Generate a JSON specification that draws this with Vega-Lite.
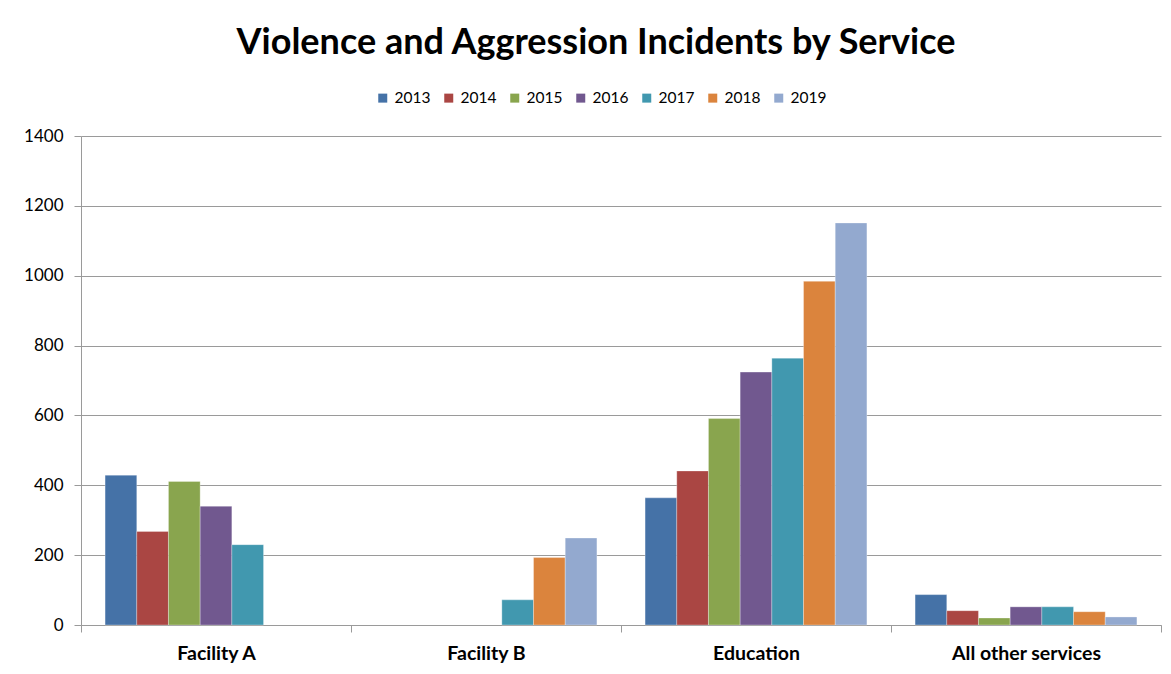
{
  "$schema": "https://vega.github.io/schema/vega-lite/v6.json",
  "width": 1080,
  "height": 489,
  "autosize": {"type": "none"},
  "padding": {"left": 81, "top": 136, "right": 10, "bottom": 49},
  "background": "white",
  "title": {
    "text": "Violence and Aggression Incidents by Service",
    "font": "Lato",
    "fontSize": 36,
    "fontWeight": "bold",
    "color": "#000000",
    "anchor": "middle",
    "frame": "group",
    "dx": -25,
    "baseline": "alphabetic",
    "offset": 0
  },
  "data": {
    "values": [
      {"service": "Facility A", "year": "2013", "value": 429},
      {"service": "Facility A", "year": "2014", "value": 268},
      {"service": "Facility A", "year": "2015", "value": 411},
      {"service": "Facility A", "year": "2016", "value": 340},
      {"service": "Facility A", "year": "2017", "value": 230},
      {"service": "Facility B", "year": "2017", "value": 72},
      {"service": "Facility B", "year": "2018", "value": 193},
      {"service": "Facility B", "year": "2019", "value": 249},
      {"service": "Education", "year": "2013", "value": 364},
      {"service": "Education", "year": "2014", "value": 441},
      {"service": "Education", "year": "2015", "value": 591},
      {"service": "Education", "year": "2016", "value": 724},
      {"service": "Education", "year": "2017", "value": 764},
      {"service": "Education", "year": "2018", "value": 984},
      {"service": "Education", "year": "2019", "value": 1151},
      {"service": "All other services", "year": "2013", "value": 87},
      {"service": "All other services", "year": "2014", "value": 41},
      {"service": "All other services", "year": "2015", "value": 20},
      {"service": "All other services", "year": "2016", "value": 52},
      {"service": "All other services", "year": "2017", "value": 52},
      {"service": "All other services", "year": "2018", "value": 38},
      {"service": "All other services", "year": "2019", "value": 23}
    ]
  },
  "mark": {"type": "bar", "stroke": "#ffffff", "strokeWidth": 0.6, "strokeOpacity": 0.5},
  "encoding": {
    "x": {
      "field": "service",
      "type": "nominal",
      "sort": ["Facility A", "Facility B", "Education", "All other services"],
      "scale": {"paddingInner": 0, "paddingOuter": 0},
      "axis": {
        "title": null,
        "labelAngle": 0,
        "labelFont": "Lato",
        "labelFontSize": 19.5,
        "labelFontWeight": "bold",
        "labelColor": "#000000",
        "labelPadding": 12,
        "tickBand": "extent",
        "tickSize": 7,
        "tickColor": "#9a9a9a",
        "domainColor": "#9a9a9a",
        "grid": false
      }
    },
    "xOffset": {
      "field": "year",
      "type": "nominal",
      "scale": {"paddingInner": 0, "paddingOuter": 0.76}
    },
    "y": {
      "field": "value",
      "type": "quantitative",
      "scale": {"domain": [0, 1400], "nice": false},
      "axis": {
        "title": null,
        "values": [0, 200, 400, 600, 800, 1000, 1200, 1400],
        "format": "d",
        "labelFont": "Lato",
        "labelFontSize": 17,
        "labelColor": "#000000",
        "labelPadding": 11,
        "tickSize": 7,
        "tickColor": "#9a9a9a",
        "domainColor": "#9a9a9a",
        "gridColor": "#9a9a9a",
        "grid": true
      }
    },
    "color": {
      "field": "year",
      "type": "nominal",
      "scale": {
        "domain": ["2013", "2014", "2015", "2016", "2017", "2018", "2019"],
        "range": ["#4572A7", "#AA4643", "#89A54E", "#71588F", "#4198AF", "#DB843D", "#93A9CF"]
      },
      "legend": {
        "title": null,
        "orient": "none",
        "direction": "horizontal",
        "legendX": 294,
        "legendY": -46,
        "symbolType": "square",
        "symbolSize": 81,
        "symbolStrokeWidth": 0,
        "labelFont": "Lato",
        "labelFontSize": 15.5,
        "labelColor": "#000000",
        "labelOffset": 4,
        "columnPadding": 10
      }
    }
  },
  "config": {
    "view": {"stroke": null},
    "axis": {"domainWidth": 1, "tickWidth": 1, "gridWidth": 1}
  }
}
